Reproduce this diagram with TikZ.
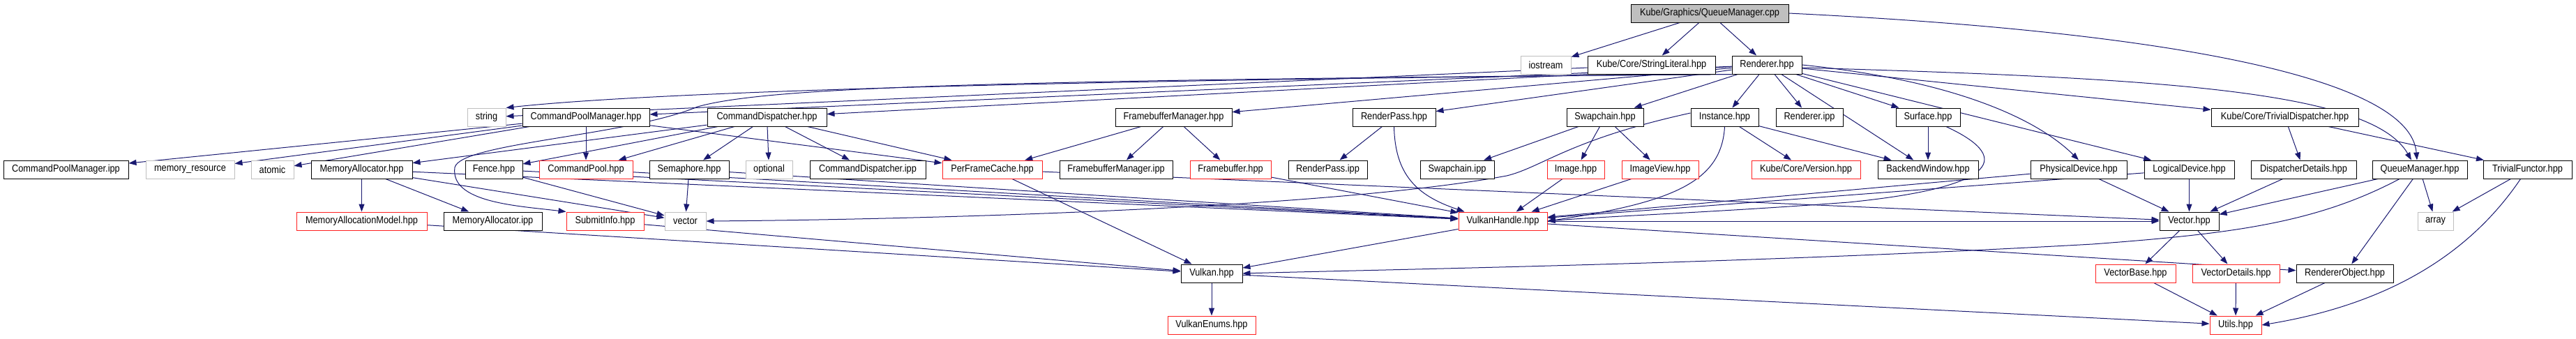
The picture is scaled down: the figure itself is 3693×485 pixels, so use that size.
\documentclass[tikz,border=0pt]{standalone}
\usepackage{fontspec}
\setmainfont{Liberation Sans}[FakeStretch=0.88]
\usetikzlibrary{arrows.meta}
\definecolor{edgec}{HTML}{191970}
\definecolor{sysc}{HTML}{BFBFBF}
\definecolor{redc}{HTML}{FF2020}
\definecolor{rootc}{HTML}{BFBFBF}
\pgfdeclarelayer{bg}
\pgfsetlayers{bg,main}
\begin{document}
\begin{tikzpicture}[x=1pt,y=-1pt,
  box/.style={draw=black,line width=1pt,minimum height=26pt,inner sep=0pt,fill=white,font=\fontsize{14.5}{17}\selectfont},
  sys/.style={box,draw=sysc},
  trunc/.style={box,draw=redc},
  rootbox/.style={box,fill=rootc},
  dep/.style={draw=edgec,line width=1pt,-{Triangle[length=11pt,width=8pt]}}]
\useasboundingbox (0,0) rectangle (3693,485);
% row 0
\node[rootbox,minimum width=226pt] (root) at (2451,19) {Kube/Graphics/QueueManager.cpp};
% row 1
\node[sys,minimum width=72pt] (iostream) at (2216,93) {iostream};
\node[box,minimum width=183pt] (strlit) at (2367.5,93) {Kube/Core/StringLiteral.hpp};
\node[box,minimum width=100pt] (rend) at (2533,93) {Renderer.hpp};
% row 2
\node[sys,minimum width=55pt] (string) at (697.5,168) {string};
\node[box,minimum width=182pt] (cpmh) at (840,168) {CommandPoolManager.hpp};
\node[box,minimum width=171pt] (cdh) at (1099.5,168) {CommandDispatcher.hpp};
\node[box,minimum width=167pt] (fbmh) at (1682.5,168) {FramebufferManager.hpp};
\node[box,minimum width=119pt] (rph) at (1998.5,168) {RenderPass.hpp};
\node[box,minimum width=110pt] (sch) at (2301,168) {Swapchain.hpp};
\node[box,minimum width=97pt] (insth) at (2472.5,168) {Instance.hpp};
\node[box,minimum width=96pt] (rendipp) at (2594,168) {Renderer.ipp};
\node[box,minimum width=92pt] (surf) at (2764,168) {Surface.hpp};
\node[box,minimum width=211pt] (tdisp) at (3275.5,168) {Kube/Core/TrivialDispatcher.hpp};
% row 3
\node[box,minimum width=179pt] (cpmipp) at (94.5,243) {CommandPoolManager.ipp};
\node[sys,minimum width=127pt] (memres) at (272.5,243) {memory\_resource};
\node[sys,minimum width=61pt] (atomic) at (390.5,243) {atomic};
\node[box,minimum width=145pt] (mah) at (518.5,243) {MemoryAllocator.hpp};
\node[box,minimum width=82pt] (fence) at (708,243) {Fence.hpp};
\node[trunc,minimum width=134pt] (cpool) at (840,243) {CommandPool.hpp};
\node[box,minimum width=114pt] (sem) at (988,243) {Semaphore.hpp};
\node[sys,minimum width=67pt] (optional) at (1102.5,243) {optional};
\node[box,minimum width=166pt] (cdipp) at (1244,243) {CommandDispatcher.ipp};
\node[trunc,minimum width=143pt] (pfc) at (1422.5,243) {PerFrameCache.hpp};
\node[box,minimum width=162pt] (fbmipp) at (1600,243) {FramebufferManager.ipp};
\node[trunc,minimum width=116pt] (fb) at (1764,243) {Framebuffer.hpp};
\node[box,minimum width=113pt] (rpipp) at (1903.5,243) {RenderPass.ipp};
\node[box,minimum width=106pt] (scipp) at (2089,243) {Swapchain.ipp};
\node[trunc,minimum width=82pt] (img) at (2259,243) {Image.hpp};
\node[trunc,minimum width=110pt] (imgv) at (2380,243) {ImageView.hpp};
\node[trunc,minimum width=156pt] (ver) at (2589,243) {Kube/Core/Version.hpp};
\node[box,minimum width=144pt] (bw) at (2764,243) {BackendWindow.hpp};
\node[box,minimum width=138pt] (pd) at (2980,243) {PhysicalDevice.hpp};
\node[box,minimum width=129pt] (ld) at (3138.5,243) {LogicalDevice.hpp};
\node[box,minimum width=151pt] (dd) at (3302.5,243) {DispatcherDetails.hpp};
\node[box,minimum width=136pt] (qmh) at (3469,243) {QueueManager.hpp};
\node[box,minimum width=127pt] (tf) at (3623.5,243) {TrivialFunctor.hpp};
% row 4
\node[trunc,minimum width=187pt] (mam) at (518.5,317) {MemoryAllocationModel.hpp};
\node[box,minimum width=141pt] (maipp) at (706.5,317) {MemoryAllocator.ipp};
\node[trunc,minimum width=111pt] (si) at (867.5,317) {SubmitInfo.hpp};
\node[sys,minimum width=59pt] (vector) at (982.5,317) {vector};
\node[trunc,minimum width=127pt] (vh) at (2154.5,317) {VulkanHandle.hpp};
\node[box,minimum width=85pt] (vec) at (3138.5,317) {Vector.hpp};
\node[sys,minimum width=51pt] (array) at (3491.5,317) {array};
% row 5
\node[box,minimum width=88pt] (vk) at (1737,392) {Vulkan.hpp};
\node[trunc,minimum width=115pt] (vb) at (3061.5,392) {VectorBase.hpp};
\node[trunc,minimum width=125pt] (vd) at (3205.5,392) {VectorDetails.hpp};
\node[box,minimum width=139pt] (ro) at (3361.5,392) {RendererObject.hpp};
% row 6
\node[trunc,minimum width=126pt] (ve) at (1737,466) {VulkanEnums.hpp};
\node[trunc,minimum width=74pt] (utils) at (3205,466) {Utils.hpp};

\begin{pgfonlayer}{bg}
% root
\draw[dep] (root) -- (iostream);
\draw[dep] (root) -- (strlit);
\draw[dep] (root) -- (rend);
\draw[dep] (root.east) .. controls (3100,45) and (3455,110) .. ([xshift=-4pt]qmh.north);
% string literal
\draw[dep] (strlit) -- (string);
% renderer
\draw[dep] (rend.south west) .. controls (1800,112) and (1000,125) .. (string.north east);
\draw[dep] (rend.south west) .. controls (1400,115) and (1100,125) .. (1000,153) .. controls (900,195) and (660,205) .. (652,240) .. controls (645,290) and (740,295) .. (si.north west);
\draw[dep] (rend) -- (cpmh);
\draw[dep] (rend) -- (cdh);
\draw[dep] (rend) -- (fbmh);
\draw[dep] (rend) -- (rph);
\draw[dep] (rend) -- (sch);
\draw[dep] (rend) -- (insth);
\draw[dep] (rend) -- (rendipp);
\draw[dep] (rend) -- (surf);
\draw[dep] (rend) -- (bw);
\draw[dep] (rend.east) .. controls (2800,115) and (2920,170) .. (pd.north);
\draw[dep] (rend) -- (ld);
\draw[dep] ([yshift=-4pt]rend.east) .. controls (3100,112) and (3400,130) .. ([xshift=-12pt]qmh.north);
\draw[dep] (rend) -- (tdisp);
% command pool manager
\draw[dep] (cpmh) -- (cpmipp);
\draw[dep] (cpmh) -- (memres);
\draw[dep] (cpmh) -- (atomic);
\draw[dep] (cpmh) -- (cpool);
\draw[dep] (cpmh) -- (pfc);
% command dispatcher
\draw[dep] (cdh) -- (mah);
\draw[dep] (cdh) -- (fence);
\draw[dep] (cdh) -- (cpool);
\draw[dep] (cdh) -- (sem);
\draw[dep] (cdh) -- (optional);
\draw[dep] (cdh) -- (cdipp);
\draw[dep] (cdh) -- (pfc);
% framebuffer manager
\draw[dep] (fbmh) -- (pfc);
\draw[dep] (fbmh) -- (fbmipp);
\draw[dep] (fbmh) -- (fb);
% render pass
\draw[dep] (rph) -- (rpipp);
\draw[dep] (rph.south) .. controls (2000,250) and (2030,280) .. ([xshift=-55pt]vh.north);
% swapchain
\draw[dep] (sch) -- (scipp);
\draw[dep] (sch) -- (img);
\draw[dep] (sch) -- (imgv);
% instance
\draw[dep] ([yshift=6pt]insth.west) .. controls (2250,200) and (2210,240) .. (2160,252) .. controls (1900,300) and (1300,315) .. (vector.east);
\draw[dep] (insth.south) .. controls (2468,260) and (2400,290) .. (vh.east);
\draw[dep] (insth) -- (ver);
\draw[dep] (insth) -- (bw);
% surface
\draw[dep] (surf) -- (bw);
\draw[dep] ([xshift=26pt]surf.south) .. controls (2895,230) and (2850,270) .. (2650,290) .. controls (2450,305) and (2300,310) .. (vh.east);
% devices
\draw[dep] (pd) -- (vh);
\draw[dep] (pd) -- (vec);
\draw[dep] (ld) -- (vh);
\draw[dep] (ld) -- (vec);
% dispatcher
\draw[dep] (tdisp) -- (dd);
\draw[dep] (tdisp) -- (tf);
\draw[dep] (dd) -- (vec);
% queue manager
\draw[dep] (qmh) -- (vec);
\draw[dep] ([xshift=-29pt]qmh.south) .. controls (3320,320) and (3200,335) .. (3000,350) .. controls (2500,378) and (2000,386) .. (vk.east);
\draw[dep] (qmh) -- (array);
\draw[dep] (qmh) -- (ro);
\draw[dep] (tf) -- (array);
\draw[dep] ([xshift=-10pt]tf.south) .. controls (3530,380) and (3400,440) .. (utils.east);
% memory allocator
\draw[dep] (mah) -- (mam);
\draw[dep] (mah) -- (maipp);
\draw[dep] (mah) -- (vector);
\draw[dep] (mah) -- (vh);
% fence, pool, semaphore
\draw[dep] (fence) -- (vector);
\draw[dep] (fence) -- (vh);
\draw[dep] (cpool) -- (vh);
\draw[dep] (sem) -- (vector);
\draw[dep] (sem) -- (vh);
% per frame cache
\draw[dep] (pfc) -- (vk);
\draw[dep] (pfc) -- (vec);
% red nodes
\draw[dep] (fb) -- (vh);
\draw[dep] (img) -- (vh);
\draw[dep] (imgv) -- (vh);
\draw[dep] (mam) -- (vk);
\draw[dep] (si) -- (vk);
% vulkan handle
\draw[dep] (vh) -- (vk);
\draw[dep] (vh) -- (vec);
\draw[dep] (vh) -- (ro);
% vector
\draw[dep] (vec) -- (vb);
\draw[dep] (vec) -- (vd);
% vulkan
\draw[dep] (vk) -- (ve);
\draw[dep] (vk) -- (utils);
% utils
\draw[dep] (vb) -- (utils);
\draw[dep] (vd) -- (utils);
\draw[dep] (ro) -- (utils);
\end{pgfonlayer}
\end{tikzpicture}
\end{document}
